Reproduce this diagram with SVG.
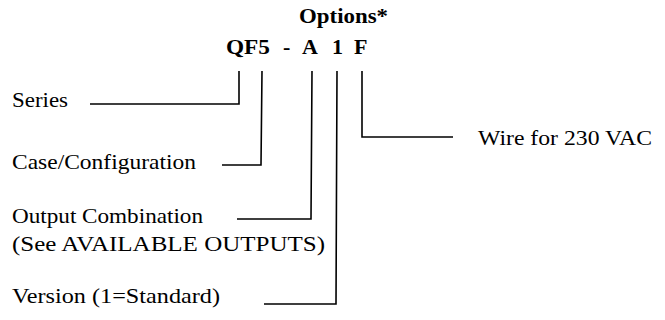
<svg xmlns="http://www.w3.org/2000/svg" width="665" height="320" viewBox="0 0 665 320">
<style>
text{font-family:"Liberation Serif","Times New Roman",serif;fill:#000;font-size:22px}
.b{font-weight:bold}
.c{fill:none;stroke:#000;stroke-width:1.6}
</style>
<rect width="665" height="320" fill="#fff"/>
<g id="header">
<text class="b" x="299" y="23" textLength="89" lengthAdjust="spacingAndGlyphs">Options*</text>
<text class="b" x="226" y="54" textLength="44" lengthAdjust="spacingAndGlyphs">QF5</text>
<text class="b" x="283" y="54">-</text>
<text class="b" x="302" y="54">A</text>
<text class="b" x="332" y="54">1</text>
<text class="b" x="354" y="54">F</text>
</g>
<g id="series"><text x="12" y="107" textLength="56" lengthAdjust="spacingAndGlyphs">Series</text></g>
<g id="case"><text x="12" y="169" textLength="184" lengthAdjust="spacingAndGlyphs">Case/Configuration</text></g>
<g id="output"><text x="12" y="223" textLength="191" lengthAdjust="spacingAndGlyphs">Output Combination</text>
<text x="12" y="251" textLength="313" lengthAdjust="spacingAndGlyphs">(See AVAILABLE OUTPUTS)</text></g>
<g id="version"><text x="12" y="303" textLength="208" lengthAdjust="spacingAndGlyphs">Version (1=Standard)</text></g>
<g id="wire"><text x="478" y="145" textLength="174" lengthAdjust="spacingAndGlyphs">Wire for 230 VAC</text></g>
<g id="connectors">
<polyline class="c" points="90,104 239,104 239,71"/>
<polyline class="c" points="222,165 261,165 262,71"/>
<polyline class="c" points="237,219 311,219 312,71"/>
<polyline class="c" points="264,304 336,304 337,71"/>
<polyline class="c" points="362,71 362,137 453,137"/>
</g>
</svg>
